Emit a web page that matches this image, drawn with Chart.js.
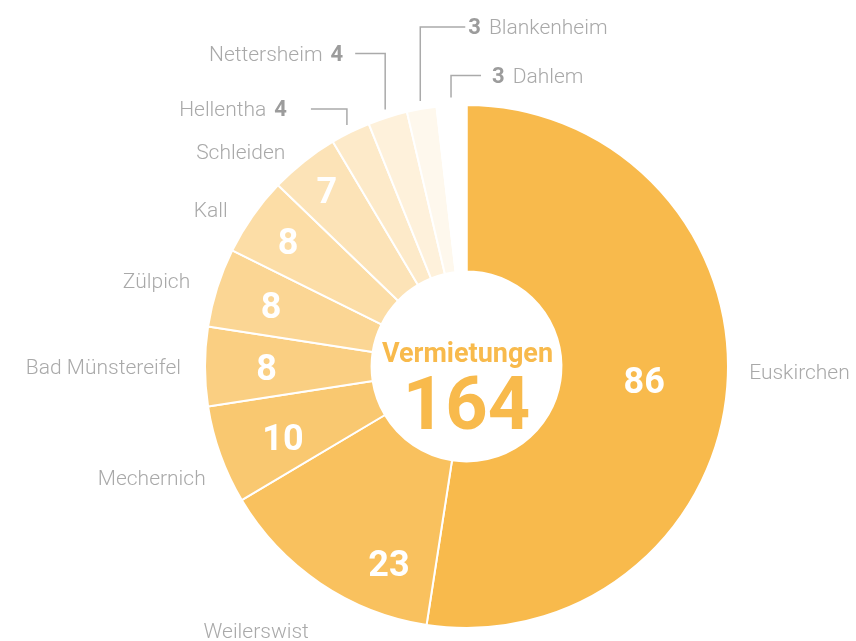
<!DOCTYPE html>
<html lang="de">
<head>
<meta charset="utf-8">
<title>Vermietungen nach Orten</title>
<script src="https://cdn.jsdelivr.net/npm/chart.js@4.4.1/dist/chart.umd.min.js"></script>
<style>
  html, body { margin: 0; padding: 0; background: #fff; }
  #wrap { width: 856px; height: 641px; }
</style>
</head>
<body>
<div id="wrap"><canvas id="rentalChart" width="856" height="641"></canvas></div>
<script>
// ===================================
// Daten: Vermietungen je Ort
// ===================================

const districts = ['Euskirchen', 'Weilerswist', 'Mechernich', 'Bad Münstereifel', 'Zülpich',
                   'Kall', 'Schleiden', 'Hellentha', 'Nettersheim', 'Blankenheim', 'Dahlem'];
const rentals = [86, 23, 10, 8, 8, 8, 7, 4, 4, 3, 3];
const centerTitle = 'Vermietungen';

// ===================================
// Layout / Stil
// ===================================

const baseColor = [248, 186, 76];
const nameColor = '#a9a9a9';
const numberColor = '#9c9c9c';
const nameFont = '300 21px Roboto';
const numberFont = 'bold 22px Roboto';

// Kleine Orte: Hinweislinie (hoch, dann seitlich) statt Zahl im Segment
const callouts = {
    'Hellentha':   { rise: 16, run: -36, gap: 24 },
    'Nettersheim': { rise: 56, run: -30, gap: 12 },
    'Blankenheim': { rise: 74, run: 45, gap: 3 },
    'Dahlem':      { rise: 22, run: 30, gap: 11 }
};

// Wie weit die Zahl im Ring nach außen rückt (0 = innen, 1 = außen)
const valueDepth = {
    'Euskirchen': 0.5, 'Weilerswist': 0.68, 'Mechernich': 0.62, 'Bad Münstereifel': 0.63,
    'Zülpich': 0.66, 'Kall': 0.74, 'Schleiden': 0.78
};
// Zahlen, die nicht genau auf der Segmentmitte sitzen (dx, dy)
const valueShift = { 'Weilerswist': [39, 24], 'Mechernich': [3, 4] };

// Feinkorrektur der Ortsnamen außen (dx, dy)
const nameShift = {
    'Euskirchen': [0, -14], 'Weilerswist': [1, 31], 'Mechernich': [6, 17], 'Bad Münstereifel': [-2, 2],
    'Zülpich': [-6, 2], 'Kall': [-7, 8], 'Schleiden': [-5, 9]
};

// jede Stufe 10 % heller bis weiß
function shade(i) {
    const t = i * 0.1;
    const c = baseColor.map(v => Math.round(v + (255 - v) * t));
    return 'rgb(' + c.join(',') + ')';
}

const total = rentals.reduce((a, b) => a + b, 0);

// ===================================
// Beschriftungen
// ===================================

const ringLabels = {
    id: 'ringLabels',
    afterDatasetsDraw(chart) {
        const ctx = chart.ctx;
        const arcs = chart.getDatasetMeta(0).data;

        ctx.save();
        arcs.forEach((arc, i) => {
            const p = arc.getProps(['x', 'y', 'startAngle', 'endAngle', 'innerRadius', 'outerRadius'], true);
            const mid = (p.startAngle + p.endAngle) / 2;
            const cos = Math.cos(mid);
            const sin = Math.sin(mid);
            const name = districts[i];
            const value = String(rentals[i]);
            const call = callouts[name];

            if (call) {
                // Linie vom Ringrand nach oben und zur Seite
                const r0 = p.outerRadius + 8;
                const sx = p.x + r0 * cos;
                const sy = p.y + r0 * sin;
                const ty = sy - call.rise;
                const ex = sx + call.run;

                ctx.strokeStyle = '#aaaaaa';
                ctx.lineWidth = 1.5;
                ctx.beginPath();
                ctx.moveTo(sx, sy);
                ctx.lineTo(sx, ty);
                ctx.lineTo(ex, ty);
                ctx.stroke();

                ctx.textBaseline = 'middle';
                ctx.font = numberFont;
                const numW = ctx.measureText(value).width;
                if (call.run < 0) {
                    const tx = ex - call.gap;
                    ctx.textAlign = 'right';
                    ctx.fillStyle = numberColor;
                    ctx.fillText(value, tx, ty + 2);
                    ctx.font = nameFont;
                    ctx.fillStyle = nameColor;
                    ctx.fillText(name, tx - numW - 8, ty + 2);
                } else {
                    const tx = ex + call.gap;
                    ctx.textAlign = 'left';
                    ctx.fillStyle = numberColor;
                    ctx.fillText(value, tx, ty + 2);
                    ctx.font = nameFont;
                    ctx.fillStyle = nameColor;
                    ctx.fillText(name, tx + numW + 8, ty + 2);
                }
                return;
            }

            // Zahl im Segment
            const depth = valueDepth[name] !== undefined ? valueDepth[name] : 0.65;
            const rv = p.innerRadius + (p.outerRadius - p.innerRadius) * depth;
            const vs = valueShift[name] || [0, 0];
            ctx.font = 'bold 36px Roboto';
            ctx.fillStyle = '#ffffff';
            ctx.textAlign = 'center';
            ctx.textBaseline = 'middle';
            ctx.fillText(value, p.x + rv * cos + vs[0], p.y + rv * sin + 4 + vs[1]);

            // Ortsname außen
            const rn = p.outerRadius + 22;
            const ns = nameShift[name] || [0, 0];
            ctx.font = nameFont;
            ctx.fillStyle = nameColor;
            ctx.textAlign = cos >= 0 ? 'left' : 'right';
            ctx.fillText(name, p.x + rn * cos + ns[0], p.y + rn * sin + ns[1]);
        });

        // Summe in der Mitte
        const c = arcs[0];
        ctx.fillStyle = shade(0);
        ctx.textAlign = 'center';
        ctx.textBaseline = 'alphabetic';
        ctx.font = 'bold 27px Roboto';
        ctx.fillText(centerTitle, c.x + 1, c.y - 5);
        ctx.font = 'bold 74px Roboto';
        ctx.fillText(String(total), c.x, c.y + 62);
        ctx.restore();
    }
};

// ===================================
// Chart
// ===================================

const ctx = document.getElementById('rentalChart').getContext('2d');
const rentalChart = new Chart(ctx, {
    type: 'doughnut',
    data: {
        labels: districts,
        datasets: [{
            data: rentals,
            backgroundColor: districts.map((d, i) => shade(i)),
            borderColor: '#ffffff',
            borderWidth: 2,
            hoverOffset: 0
        }]
    },
    options: {
        responsive: false,
        animation: false,
        events: [],
        cutout: '36.3%',
        layout: {
            padding: { left: 204, right: 127, top: 104, bottom: 12 }
        },
        plugins: {
            legend: { display: false },
            tooltip: { enabled: false }
        }
    },
    plugins: [ringLabels]
});
</script>
</body>
</html>
